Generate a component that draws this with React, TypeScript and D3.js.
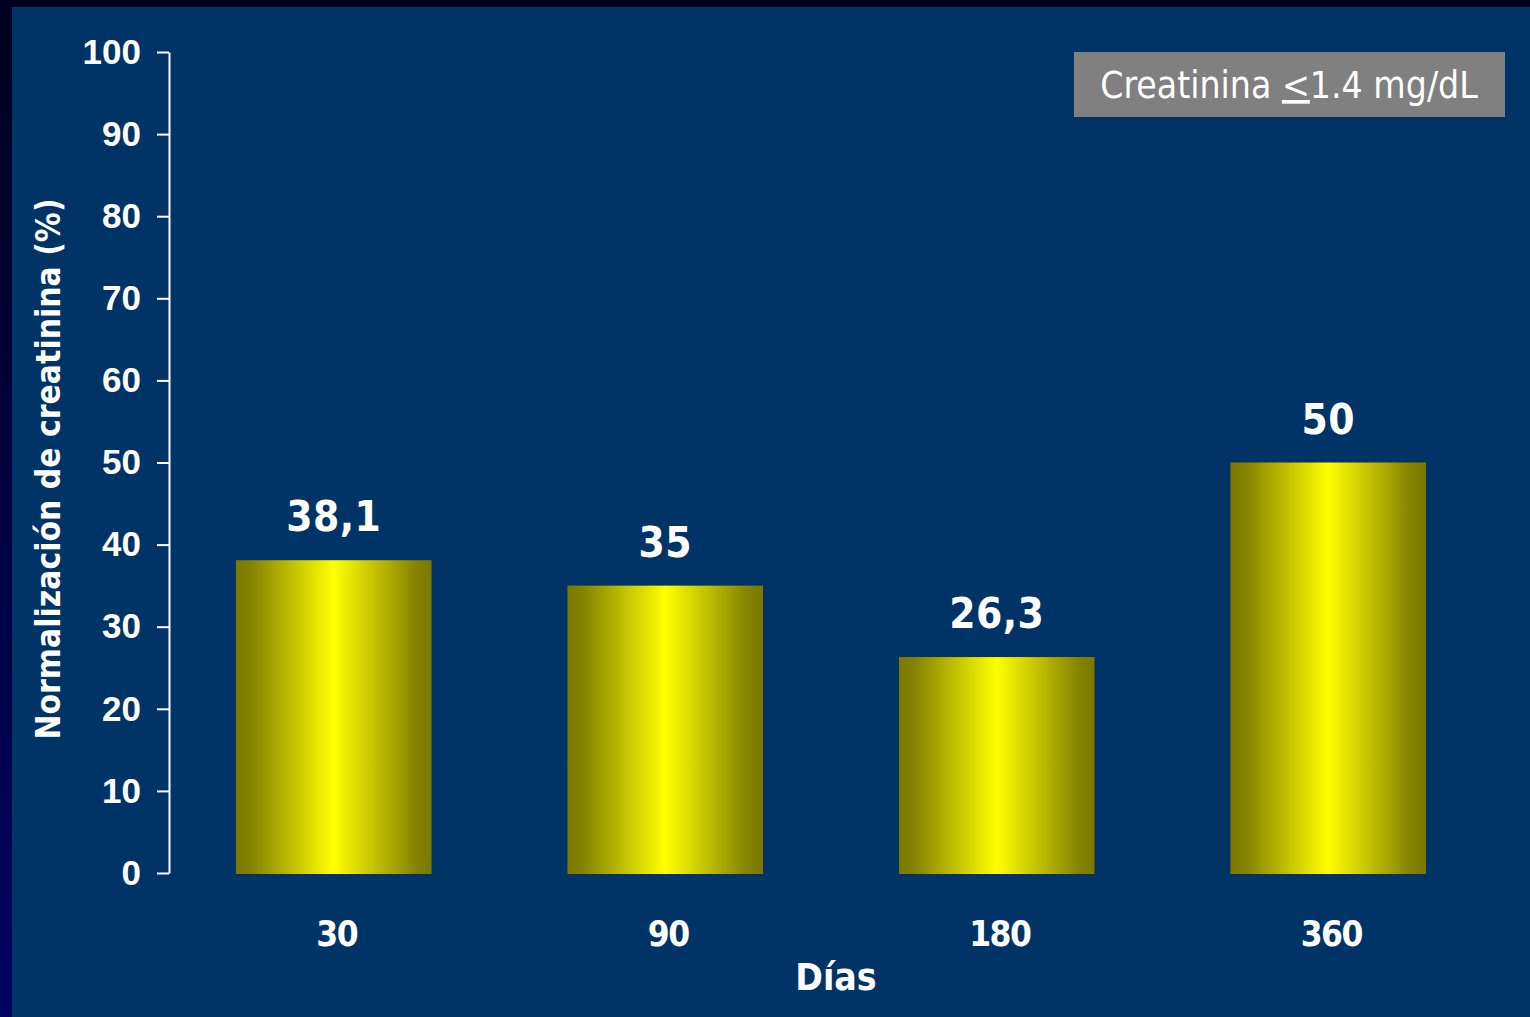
import React, { useEffect, useRef } from "react";
import * as d3 from "d3";

const categories = ["30", "90", "180", "360"];
const values = [38.1, 35, 26.3, 50];
const valueLabels = ["38,1", "35", "26,3", "50"];
const yTicks = [0, 10, 20, 30, 40, 50, 60, 70, 80, 90, 100];
const yTitle = "Normalización de creatinina (%)";
const xTitle = "Días";

const W = 1530;
const H = 1017;
const FONT = "'DejaVu Sans Condensed', 'DejaVu Sans', sans-serif";

export default function App() {
  const ref = useRef<SVGSVGElement>(null);

  useEffect(() => {
    const svg = d3.select(ref.current);
    svg.selectAll("*").remove();

    const defs = svg.append("defs");
    const edge = defs
      .append("linearGradient")
      .attr("id", "edge")
      .attr("x1", 0)
      .attr("y1", 0)
      .attr("x2", 0)
      .attr("y2", 1);
    edge.append("stop").attr("offset", "0%").attr("stop-color", "#000020");
    edge.append("stop").attr("offset", "100%").attr("stop-color", "#000062");

    const bar = defs
      .append("linearGradient")
      .attr("id", "bar")
      .attr("x1", 0)
      .attr("y1", 0)
      .attr("x2", 1)
      .attr("y2", 0);
    bar.append("stop").attr("offset", "0%").attr("stop-color", "#7a7800");
    bar.append("stop").attr("offset", "8%").attr("stop-color", "#858300");
    bar.append("stop").attr("offset", "50%").attr("stop-color", "#ffff00");
    bar.append("stop").attr("offset", "92%").attr("stop-color", "#858300");
    bar.append("stop").attr("offset", "100%").attr("stop-color", "#7a7800");

    // background
    svg.append("rect").attr("width", W).attr("height", H).attr("fill", "#003366");
    svg.append("rect").attr("width", W).attr("height", 7).attr("fill", "#000020");
    svg.append("rect").attr("width", 12).attr("height", H).attr("fill", "url(#edge)");

    const y = d3.scaleLinear().domain([0, 100]).range([873, 52]);
    const x = d3
      .scaleBand<string>()
      .domain(categories)
      .range([168, 1494])
      .paddingInner(0.41)
      .paddingOuter(0.205);

    // bars
    svg
      .selectAll("rect.bar")
      .data(values)
      .join("rect")
      .attr("class", "bar")
      .attr("x", (_, i) => x(categories[i])!)
      .attr("width", x.bandwidth())
      .attr("y", (d) => y(d))
      .attr("height", (d) => y(0) - y(d) + 1)
      .attr("fill", "url(#bar)");

    // value labels
    svg
      .selectAll("text.val")
      .data(values)
      .join("text")
      .attr("class", "val")
      .attr("x", (_, i) => x(categories[i])! + x.bandwidth() / 2)
      .attr("y", (d) => y(d) - 29)
      .attr("text-anchor", "middle")
      .attr("fill", "#ffffff")
      .attr("font-family", FONT)
      .attr("font-weight", "bold")
      .attr("font-size", 42)
      .attr("letter-spacing", 0.5)
      .text((_, i) => valueLabels[i]);

    // y axis
    const yAxis = d3.axisLeft(y).tickValues(yTicks).tickSize(12).tickPadding(16).tickSizeOuter(0);
    const gy = svg.append("g").attr("transform", "translate(169,0)").call(yAxis);
    gy.select(".domain").attr("stroke", "#ffffff").attr("stroke-width", 2);
    gy.selectAll(".tick line").attr("stroke", "#ffffff").attr("stroke-width", 2);
    gy.selectAll(".tick text")
      .attr("fill", "#ffffff")
      .attr("font-family", "'Liberation Sans', Arial, sans-serif")
      .attr("font-weight", "bold")
      .attr("font-size", 35);

    // x axis labels
    svg
      .selectAll("text.cat")
      .data(categories)
      .join("text")
      .attr("class", "cat")
      .attr("x", (d) => x(d)! + x.bandwidth() / 2 + 3)
      .attr("y", 946)
      .attr("text-anchor", "middle")
      .attr("fill", "#ffffff")
      .attr("font-family", FONT)
      .attr("font-weight", "bold")
      .attr("font-size", 35)
      .attr("letter-spacing", -1.5)
      .text((d) => d);

    svg
      .append("text")
      .attr("x", 836)
      .attr("y", 990)
      .attr("text-anchor", "middle")
      .attr("fill", "#ffffff")
      .attr("font-family", FONT)
      .attr("font-weight", "bold")
      .attr("font-size", 37)
      .text(xTitle);

    svg
      .append("text")
      .attr("transform", "translate(60,469) rotate(-90)")
      .attr("text-anchor", "middle")
      .attr("fill", "#ffffff")
      .attr("font-family", FONT)
      .attr("font-weight", "bold")
      .attr("font-size", 33.3)
      .text(yTitle);

    // legend
    svg
      .append("rect")
      .attr("x", 1074)
      .attr("y", 52)
      .attr("width", 431)
      .attr("height", 65)
      .attr("fill", "#808080");
    const lt = svg
      .append("text")
      .attr("x", 1289)
      .attr("y", 98)
      .attr("text-anchor", "middle")
      .attr("fill", "#ffffff")
      .attr("font-family", FONT)
      .attr("font-size", 37);
    lt.append("tspan").text("Creatinina ");
    lt.append("tspan").attr("text-decoration", "underline").text("<");
    lt.append("tspan").text("1.4 mg/dL");
  }, []);

  return (
    <svg
      ref={ref}
      width={W}
      height={H}
      style={{ position: "absolute", left: 0, top: 0, display: "block" }}
    />
  );
}
